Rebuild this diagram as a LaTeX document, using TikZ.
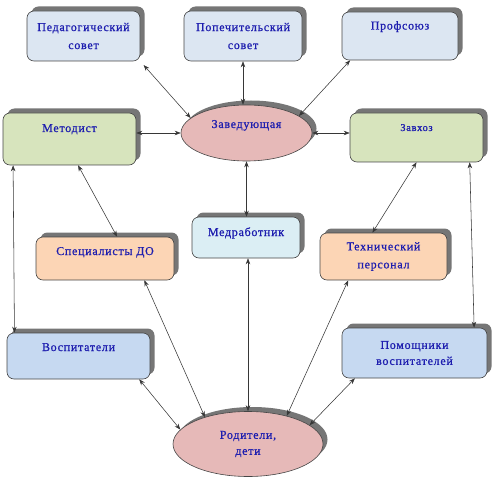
\documentclass[tikz,border=0pt]{standalone}
\usepackage{fontspec}
\setmainfont{Liberation Serif}[LetterSpace=6, FakeBold=0.8]
\usepackage{tikz}
\usetikzlibrary{shapes.geometric, arrows.meta, shadows}
\definecolor{mytext}{RGB}{30,30,175}
\definecolor{myedge}{RGB}{70,70,70}
\definecolor{mylink}{RGB}{55,55,55}
\definecolor{myshadow}{RGB}{118,118,118}
\definecolor{boxblue}{RGB}{220,230,242}
\definecolor{boxblue2}{RGB}{198,217,241}
\definecolor{boxgreen}{RGB}{215,228,189}
\definecolor{boxpeach}{RGB}{252,213,181}
\definecolor{boxcyan}{RGB}{219,238,244}
\definecolor{ovalpink}{RGB}{230,185,184}
\tikzset{
  unit/.style={rectangle, draw=myedge, rounded corners=7pt, line width=0.6pt,
    align=center, text=mytext, font=\fontsize{12}{18}\selectfont, inner sep=2pt,
    general shadow={shadow xshift=4.5pt, shadow yshift=4.5pt, fill=myshadow}},
  oval/.style={ellipse, draw=myedge, fill=ovalpink, line width=0.6pt,
    align=center, text=mytext, font=\fontsize{12}{16}\selectfont, inner sep=0pt,
    general shadow={shadow xshift=4.5pt, shadow yshift=4.5pt, fill=myshadow}},
  toptext/.style={text height=8pt, text depth=#1},
  link/.style={{Stealth[length=6pt,width=4.5pt]}-{Stealth[length=6pt,width=4.5pt]},
    line width=0.55pt, color=mylink}
}
\begin{document}
\begin{tikzpicture}[x=1pt, y=-1pt]
  \useasboundingbox (0,0) rectangle (500,481);

  % Top row
  \node[unit, fill=boxblue, minimum width=113pt, minimum height=50pt] (ped) at (83.5,36) {Педагогический\\совет};
  \node[unit, fill=boxblue, minimum width=118pt, minimum height=50pt] (pop) at (243,36) {Попечительский\\совет};
  \node[unit, fill=boxblue, minimum width=116pt, minimum height=48pt, toptext=21pt] (prof) at (400,36) {Профсоюз};

  % Head row
  \node[unit, fill=boxgreen, minimum width=133pt, minimum height=52pt, toptext=22pt] (met) at (69.5,139) {Методист};
  \node[oval, minimum width=131pt, minimum height=56pt] (zav) at (246.5,133) {Заведующая\\[2pt]};
  \node[unit, fill=boxgreen, minimum width=133pt, minimum height=49pt, toptext=21pt,
    font=\fontsize{10.5}{14}\selectfont] (zavhoz) at (416.5,137.5) {Завхоз};

  % Staff row
  \node[unit, fill=boxpeach, minimum width=138pt, minimum height=43pt, toptext=15pt] (spec) at (105,258.5) {Специалисты ДО};
  \node[unit, fill=boxcyan, minimum width=108pt, minimum height=41pt, toptext=11pt] (med) at (246,237.5) {Медработник};
  \node[unit, fill=boxpeach, minimum width=127pt, minimum height=47pt] (tech) at (383.5,256.5) {Технический\\персонал};

  % Lower row
  \node[unit, fill=boxblue2, minimum width=143pt, minimum height=46pt, toptext=18pt] (vosp) at (78.5,356) {Воспитатели};
  \node[unit, fill=boxblue2, minimum width=145pt, minimum height=50pt, font=\fontsize{12}{16}\selectfont] (pom) at (414.5,353) {Помощники\\воспитателей};
  \node[oval, minimum width=150pt, minimum height=65pt] (rod) at (248,444) {Родители,\\дети};

  % Links to the head
  \draw[link, shorten <=5pt] (ped.south east) -- (zav.165);
  \draw[link] (zav.north -| pop.south) -- (pop.south);
  \draw[link] (prof.206) -- (zav.18);
  \draw[link] (met.east |- zav.west) -- (zav.west);
  \draw[link] (zav.east) -- (zav.east -| zavhoz.west);
  \draw[link] (zav.south) -- (zav.south |- med.north);

  % Links down the sides
  \draw[link] (met.288) -- (spec.61);
  \draw[link] (met.205) -- (vosp.160);
  \draw[link] (zavhoz.south) -- (tech.115);
  \draw[link] (zavhoz.335) -- (pom.23);

  % Links to the parents
  \draw[link] (spec.331) -- (rod.148);
  \draw[link] (med.south -| rod.north) -- (rod.north);
  \draw[link] (tech.214) -- (rod.36);
  \draw[link] (vosp.339) -- (rod.168);
  \draw[link] (pom.203) -- (rod.17);
\end{tikzpicture}
\end{document}
